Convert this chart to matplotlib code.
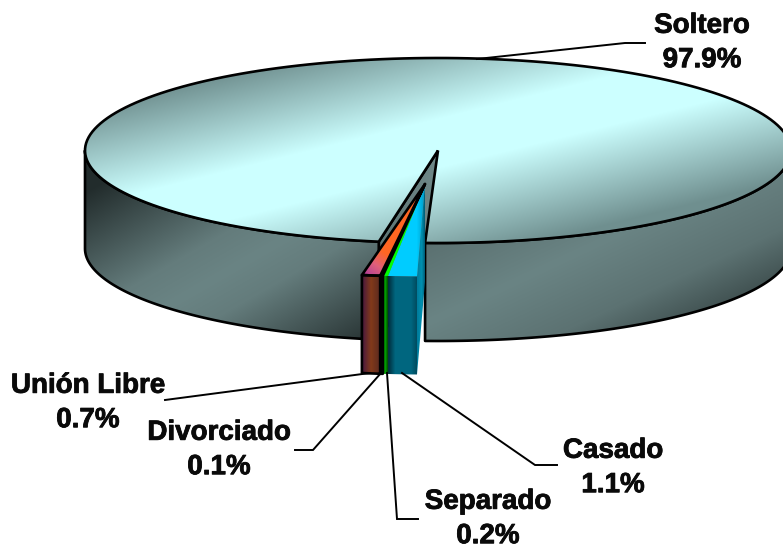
import numpy as np
import matplotlib
matplotlib.use("Agg")
import matplotlib.pyplot as plt
import matplotlib.patheffects as pe
from matplotlib.patches import Polygon

plt.rcParams['font.family'] = ['Liberation Sans', 'DejaVu Sans']

# Data, clockwise from the front of the pie
categories = ["Casado", "Separado", "Divorciado", "Unión Libre", "Soltero"]
values = [1.1, 0.2, 0.1, 0.7, 97.9]

W, H = 783, 548
CX, CY, RX, RY, DEPTH = 438, 150.5, 353, 92.5, 98
START = 2.1
EX_CX, EX_CY, EX_START, EX_SCALE = 425, 184, 1.3, 1.19
LW = 1.9

fig = plt.figure(figsize=(W / 100, H / 100), dpi=100)
ax = fig.add_axes([0, 0, 1, 1])
ax.set_xlim(0, W)
ax.set_ylim(H, 0)
ax.axis("off")

YY, XX = np.mgrid[0:H, 0:W] + 0.5


def hexrgb(c):
    return np.array(matplotlib.colors.to_rgb(c))


def ramp(t, stops):
    pos = [s[0] for s in stops]
    cols = np.array([hexrgb(s[1]) for s in stops])
    return np.dstack([np.interp(t, pos, cols[:, i]) for i in range(3)])


def shaded(pts, t, stops, z, edge=True):
    img = ramp(t, stops)
    poly = Polygon(pts, closed=True, fc="none", ec="none", transform=ax.transData)
    ax.add_patch(poly)
    im = ax.imshow(img, extent=(0, W, H, 0), aspect="auto", interpolation="nearest", zorder=z)
    im.set_clip_path(poly)
    if edge:
        ax.add_patch(Polygon(pts, closed=True, fc="none", ec="black", lw=LW, zorder=z + 0.1,
                             joinstyle="round"))


def pt(theta, cx=CX, cy=CY):
    t = np.radians(theta)
    return np.column_stack([cx - RX * np.sin(t), cy + RY * np.cos(t)])


def arc(a, b, cx=CX, cy=CY):
    return pt(np.linspace(a, b, 200), cx, cy)


fracs = np.array(values) / sum(values) * 360

# ---------- main slice (Soltero)
gap = fracs[:-1].sum()
a0 = START + gap
a1 = START + 360
apex = np.array([[CX, CY]])
drop = np.array([0, DEPTH])

# cut wall visible through the gap
edge_pt = pt(a0)
shaded(np.vstack([apex, edge_pt, edge_pt + drop, apex + drop]),
       (XX - 376) / 62, [(0, "#5d7474"), (1, "#6f8888")], 1)

# outer wall, left part
top = arc(a0, 90)
shaded(np.vstack([top, (top + drop)[::-1]]),
       np.abs(0.5 * XX + 0.87 * YY - 350) / 140,
       [(0, "#6a8484"), (0.25, "#647c7c"), (1, "#222c2c")], 2)
# outer wall, right part
top = arc(-90, START)
shaded(np.vstack([top, (top + drop)[::-1]]),
       np.abs(0.42 * XX + 0.9 * YY - 470) / 130,
       [(0, "#6a8484"), (0.5, "#5c7272"), (1, "#344242")], 2)
# top face
shaded(np.vstack([apex, arc(a0, a1)]),
       np.abs(0.24 * (XX - 250) + 0.97 * (YY - 190)) / 120,
       [(0, "#ccffff"), (0.2, "#ccffff"), (1, "#6f8f8f")], 3)

# ---------- exploded slices
ex_apex = np.array([[EX_CX, EX_CY]])
angles = [EX_START]
for f in fracs[:-1]:
    angles.append(angles[-1] + f * EX_SCALE)

# Casado cut wall
p = pt(angles[0], EX_CX, EX_CY)
shaded(np.vstack([ex_apex, p, p + drop, ex_apex + drop]),
       (XX - 417) / 8, [(0, "#007a9a"), (0.6, "#0090b0"), (1, "#005a74")], 5, edge=False)

top_styles = [
    (lambda: (XX - 392) / 33, [(0, "#00ccff"), (0.75, "#00ccff"), (1, "#0099c4")], False),
    (lambda: (XX - 385) / 7, [(0, "#00ff00"), (1, "#00ff00")], False),
    (lambda: (XX - 382) / 3, [(0, "#c07a00"), (1, "#d09000")], True),
    (lambda: ((XX - 362) * 0.6 + (276 - YY) * 0.8) / 50,
     [(0, "#a8389c"), (0.35, "#e0607a"), (0.65, "#ff6622"), (1, "#ff6622")], True),
]
front_styles = [
    ([(0, "#002a38"), (0.25, "#00667f"), (0.8, "#00667f"), (1, "#004a5e")], False),
    ([(0, "#004800"), (0.5, "#00a000"), (1, "#004800")], False),
    ([(0, "#8a7a10"), (1, "#8a7a10")], True),
    ([(0, "#451640"), (0.5, "#823a1a"), (1, "#5a2a20")], True),
]
for i in range(4):
    a, b = angles[i], angles[i + 1]
    rim = arc(a, b, EX_CX, EX_CY)
    tf, stops, edged = top_styles[i]
    shaded(np.vstack([ex_apex, rim]), tf(), stops, 6 + i * 0.2, edge=edged)
    x0, x1 = rim[:, 0].min(), rim[:, 0].max()
    shaded(np.vstack([rim, (rim + drop)[::-1]]), (XX - x0) / (x1 - x0),
           front_styles[i][0], 6 + i * 0.2, edge=front_styles[i][1])

# ---------- leaders and labels
leader_xs = [[402, 535, 557], [387, 397, 418], [381, 313, 295], [370, 165, 165], [477, 625, 645]]
leader_ys = [[373, 465, 465], [373, 519, 519], [373, 450, 450], [373, 400, 400], [59, 43, 43]]
label_xs = [613, 488, 219, 88, 702]
label_ys = [468, 519, 450, 403, 43]
for name, v, lx, ly, tx, ty in zip(categories, values, leader_xs, leader_ys, label_xs, label_ys):
    ax.plot(lx, ly, color="black", lw=1.4, zorder=10, solid_joinstyle="miter")
    ax.text(tx, ty, f"{name}\n{v:.1f}%", ha="center", va="center", fontsize=20,
            fontweight="bold", color="#0a0a0a", linespacing=1.42, zorder=11,
            path_effects=[pe.withStroke(linewidth=0.6, foreground="#0a0a0a")])

ax.set_xlim(0, W)
ax.set_ylim(H, 0)
fig.savefig("out.png", dpi=100, facecolor="white")
